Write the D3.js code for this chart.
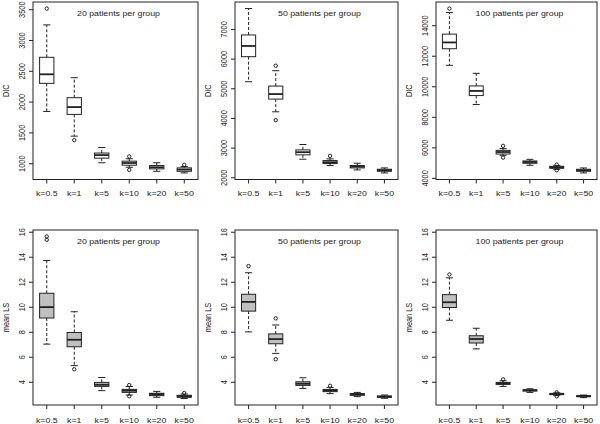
<!DOCTYPE html>
<html>
<head>
<meta charset="utf-8">
<script src="https://cdn.jsdelivr.net/npm/d3@7"></script>
<style>
body { margin: 0; background: #fff; }
</style>
</head>
<body>
<div class="canvas"></div>
<script>
// group labels on the x axis
const groups = ['k=0.5', 'k=1', 'k=5', 'k=10', 'k=20', 'k=50']

// each box: [lower whisker, q1, median, q3, upper whisker]
const dic20 = [
    [1840, 2296, 2443, 2719, 3245],
    [1439, 1792, 1911, 2063, 2388],
    [1007, 1082, 1132, 1165, 1254],
    [934, 967, 1003, 1033, 1072],
    [868, 908, 934, 962, 1007],
    [842, 868, 896, 924, 946]
]
const dic20Out = [[3510], [1374], [], [1110, 891], [], [974]]

const dic50 = [
    [5221, 6065, 6426, 6797, 7687],
    [4207, 4635, 4804, 5074, 5592],
    [2608, 2755, 2845, 2923, 3104],
    [2394, 2462, 2507, 2563, 2620],
    [2248, 2315, 2360, 2394, 2473],
    [2146, 2203, 2236, 2270, 2315]
]
const dic50Out = [[], [5761, 3926], [], [2720], [], []]

const dic100 = [
    [11370, 12457, 12870, 13413, 14826],
    [8804, 9391, 9696, 10022, 10848],
    [5480, 5565, 5696, 5804, 5920],
    [4826, 4957, 5043, 5109, 5217],
    [4560, 4630, 4696, 4761, 4820],
    [4326, 4435, 4500, 4565, 4652]
]
const dic100Out = [[15087], [], [6100, 5330], [], [4870, 4500], []]

const ls20 = [
    [7.01, 9.10, 9.97, 11.08, 13.70],
    [5.29, 6.80, 7.36, 7.94, 9.60],
    [3.29, 3.63, 3.76, 3.95, 4.34],
    [2.94, 3.15, 3.29, 3.39, 3.62],
    [2.76, 2.89, 3.00, 3.08, 3.23],
    [2.66, 2.76, 2.84, 2.92, 3.02]
]
const ls20Out = [[15.62, 15.36], [5.00], [], [3.74, 2.84], [], [3.10]]

const ls50 = [
    [7.99, 9.65, 10.39, 11.00, 12.72],
    [6.27, 7.04, 7.41, 7.83, 8.54],
    [3.47, 3.71, 3.84, 4.00, 4.32],
    [3.05, 3.21, 3.31, 3.39, 3.55],
    [2.81, 2.92, 3.00, 3.05, 3.15],
    [2.68, 2.76, 2.81, 2.86, 2.94]
]
const ls50Out = [[13.25], [9.07, 5.80], [], [3.68], [], []]

const ls100 = [
    [8.92, 9.94, 10.36, 10.97, 12.31],
    [6.63, 7.10, 7.42, 7.68, 8.28],
    [3.63, 3.79, 3.87, 3.95, 4.08],
    [3.15, 3.26, 3.31, 3.36, 3.44],
    [2.89, 2.97, 3.02, 3.07, 3.12],
    [2.73, 2.81, 2.84, 2.89, 2.94]
]
const ls100Out = [[12.58], [], [4.19], [], [3.15, 2.84], []]

const dicTicks20 = [1000, 1500, 2000, 2500, 3000, 3500]
const dicTicks50 = [2000, 3000, 4000, 5000, 6000, 7000]
const dicTicks100 = [4000, 6000, 8000, 10000, 12000, 14000]
const lsTicks = [4, 6, 8, 10, 12, 14, 16]
const titles = ['20 patients per group', '50 patients per group', '100 patients per group']

// layout of the plot regions
const cols = [[33, 198], [235, 398], [436, 597]]
const rows = [[2, 179.5], [230, 405]]
const ink = '#222'
const font = '"Liberation Sans", Arial, sans-serif'
const sq = 0.8  // the reference text looks squashed vertically

// R style range: data range plus 4% each side
function rDomain(stats, outs) {
    const vals = stats.flat().concat(outs.flat())
    const lo = d3.min(vals), hi = d3.max(vals)
    const pad = (hi - lo) * 0.04
    return [lo - pad, hi + pad]
}

const lsDomain = rDomain(ls20.concat(ls50, ls100), ls20Out.concat(ls50Out, ls100Out))

const panels = [
    { stats: dic20, outs: dic20Out, ticks: dicTicks20, dom: rDomain(dic20, dic20Out), ylab: 'DIC', title: titles[0], fill: '#fff', col: 0, row: 0 },
    { stats: dic50, outs: dic50Out, ticks: dicTicks50, dom: rDomain(dic50, dic50Out), ylab: 'DIC', title: titles[1], fill: '#fff', col: 1, row: 0 },
    { stats: dic100, outs: dic100Out, ticks: dicTicks100, dom: rDomain(dic100, dic100Out), ylab: 'DIC', title: titles[2], fill: '#fff', col: 2, row: 0 },
    { stats: ls20, outs: ls20Out, ticks: lsTicks, dom: lsDomain, ylab: 'mean LS', title: titles[0], fill: '#c0c0c0', col: 0, row: 1 },
    { stats: ls50, outs: ls50Out, ticks: lsTicks, dom: lsDomain, ylab: 'mean LS', title: titles[1], fill: '#c0c0c0', col: 1, row: 1 },
    { stats: ls100, outs: ls100Out, ticks: lsTicks, dom: lsDomain, ylab: 'mean LS', title: titles[2], fill: '#c0c0c0', col: 2, row: 1 }
]

const svg = d3.select('.canvas').append('svg')
    .attr('width', 600)
    .attr('height', 424)
    .style('display', 'block')

panels.forEach(p => {
    const [left, right] = cols[p.col]
    const [top, bottom] = rows[p.row]

    const x = d3.scaleBand().domain(groups).range([left, right])
    const y = d3.scaleLinear().domain(p.dom).range([bottom, top])
    const bw = x.bandwidth() * 0.52
    const cap = bw * 0.5

    const g = svg.append('g')

    // y axis, labels rotated like R's las = 0
    const yAxis = g.append('g')
        .attr('transform', `translate(${left},0)`)
        .call(d3.axisLeft(y).tickValues(p.ticks).tickFormat(d3.format('d')).tickSize(4).tickSizeOuter(0))
    yAxis.select('.domain').remove()
    yAxis.selectAll('line').attr('stroke', ink)
    yAxis.selectAll('text')
        .attr('x', 0).attr('y', 0).attr('dy', 0)
        .attr('transform', `translate(-8.5,0) scale(1,${sq}) rotate(-90)`)
        .attr('text-anchor', 'middle')
        .attr('fill', ink)
        .style('font-family', font)
        .style('font-size', '9.2px')

    // x axis
    const xAxis = g.append('g')
        .attr('transform', `translate(0,${bottom})`)
        .call(d3.axisBottom(x).tickSize(4).tickSizeOuter(0))
    xAxis.select('.domain').remove()
    xAxis.selectAll('line').attr('stroke', ink)
    xAxis.selectAll('text')
        .attr('x', 0).attr('y', 0).attr('dy', 0)
        .attr('transform', `translate(0,${p.row === 0 ? 16 : 17.5}) scale(1,${sq})`)
        .attr('fill', ink)
        .style('font-family', font)
        .style('font-size', '8.8px')

    // axis title
    g.append('text')
        .attr('transform', `translate(${left - 24},${(top + bottom) / 2}) scale(1,${sq}) rotate(-90)`)
        .attr('text-anchor', 'middle')
        .attr('fill', ink)
        .style('font-family', font)
        .style('font-size', '9.2px')
        .text(p.ylab)

    // boxes
    const box = g.selectAll('.box')
        .data(p.stats)
        .enter().append('g')
        .attr('class', 'box')
        .attr('transform', (d, i) => `translate(${x(groups[i]) + x.bandwidth() / 2},0)`)

    // dashed whiskers
    box.append('line')
        .attr('x1', 0).attr('x2', 0)
        .attr('y1', d => y(d[3])).attr('y2', d => y(d[4]))
        .attr('stroke', ink).attr('stroke-dasharray', '3,2')
    box.append('line')
        .attr('x1', 0).attr('x2', 0)
        .attr('y1', d => y(d[1])).attr('y2', d => y(d[0]))
        .attr('stroke', ink).attr('stroke-dasharray', '3,2')

    // staples
    box.append('line')
        .attr('x1', -cap / 2).attr('x2', cap / 2)
        .attr('y1', d => y(d[4])).attr('y2', d => y(d[4]))
        .attr('stroke', ink)
    box.append('line')
        .attr('x1', -cap / 2).attr('x2', cap / 2)
        .attr('y1', d => y(d[0])).attr('y2', d => y(d[0]))
        .attr('stroke', ink)

    box.append('rect')
        .attr('x', -bw / 2)
        .attr('width', bw)
        .attr('y', d => y(d[3]))
        .attr('height', d => y(d[1]) - y(d[3]))
        .attr('fill', p.fill)
        .attr('stroke', ink)

    // median
    box.append('line')
        .attr('x1', -bw / 2).attr('x2', bw / 2)
        .attr('y1', d => y(d[2])).attr('y2', d => y(d[2]))
        .attr('stroke', ink).attr('stroke-width', 1.8)

    // outliers
    box.each(function (d, i) {
        d3.select(this).selectAll('circle')
            .data(p.outs[i])
            .enter().append('circle')
            .attr('cx', 0)
            .attr('cy', v => y(v))
            .attr('r', 1.7)
            .attr('fill', 'none')
            .attr('stroke', ink)
    })

    // frame
    g.append('rect')
        .attr('x', left).attr('y', top)
        .attr('width', right - left).attr('height', bottom - top)
        .attr('fill', 'none')
        .attr('stroke', ink)

    // panel title inside the frame
    g.append('text')
        .attr('transform', `translate(${(left + right) / 2 + 3},${top + 13.5}) scale(1,${sq})`)
        .attr('text-anchor', 'middle')
        .attr('fill', ink)
        .style('font-family', font)
        .style('font-size', '8.8px')
        .text(p.title)
})
</script>
</body>
</html>
